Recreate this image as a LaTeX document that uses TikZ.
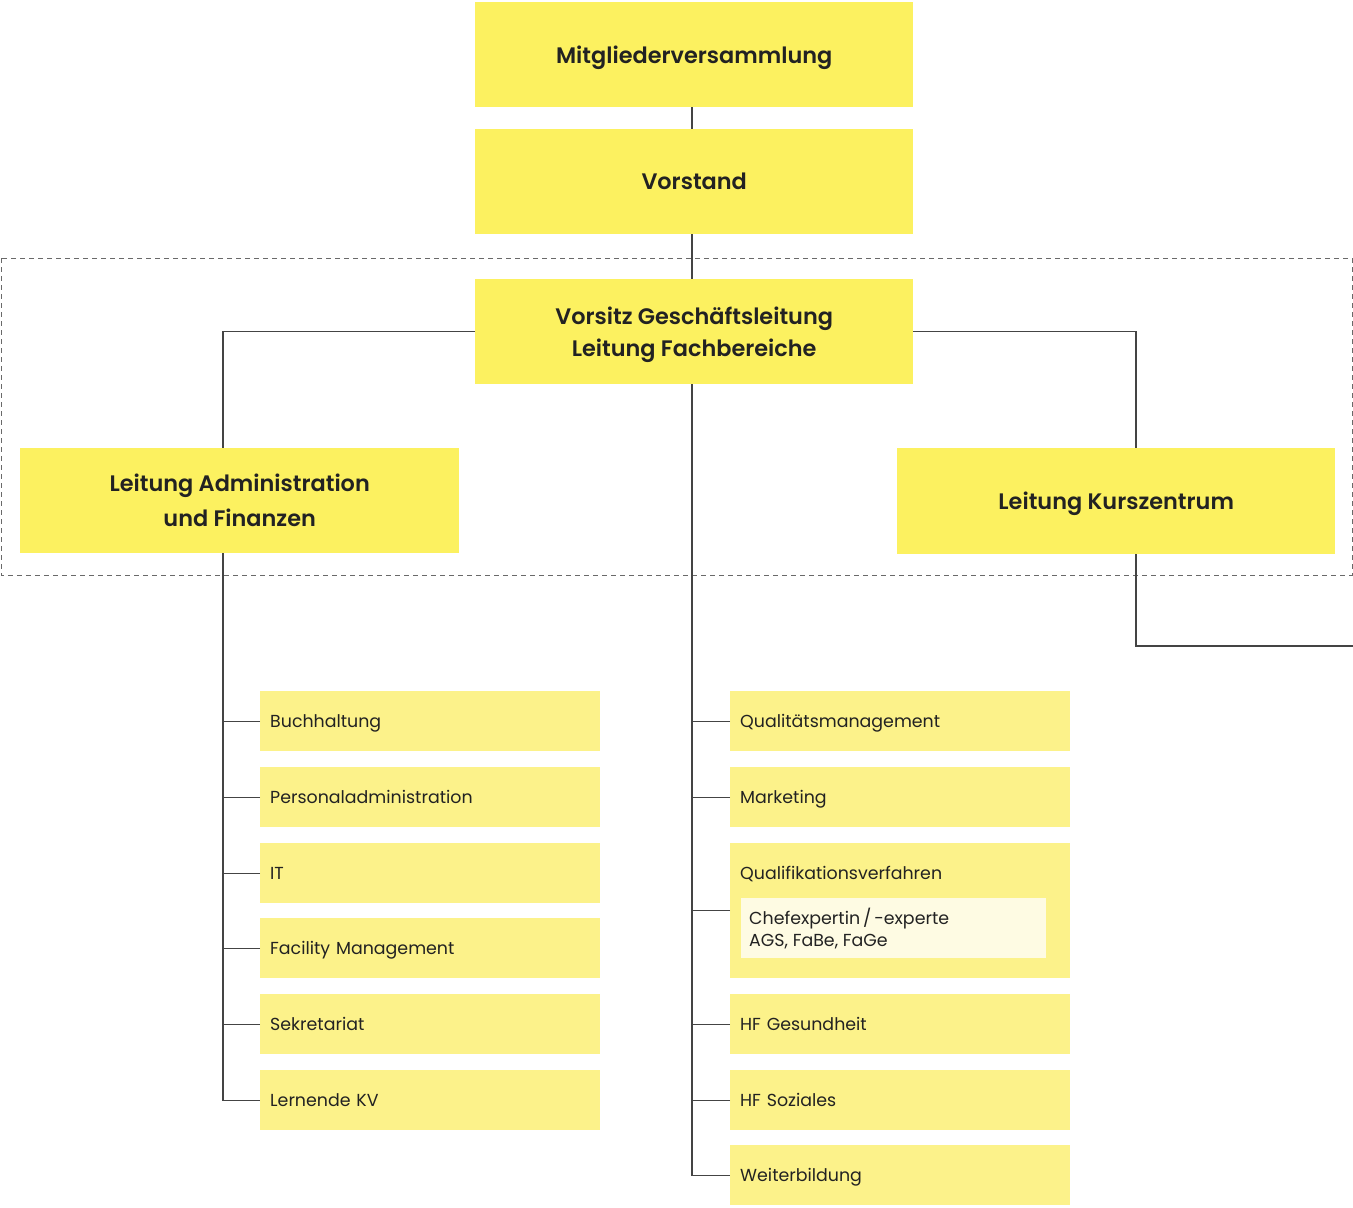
\documentclass[tikz,border=0pt]{standalone}
\usepackage{fontspec}
\setmainfont{Poppins}[BoldFont={Poppins SemiBold}]
\definecolor{yel}{HTML}{FCF160}
\definecolor{yelb}{HTML}{FCF28A}
\definecolor{yelc}{HTML}{FEFBE3}
\definecolor{txt}{HTML}{222222}
\definecolor{ln}{HTML}{444444}
\tikzset{
  bigbox/.style={fill=yel, minimum width=438pt, minimum height=105pt, inner sep=0pt, text depth=0pt, anchor=north west, align=center, text=txt, font=\bfseries\fontsize{22.4}{32}\selectfont},
  subbox/.style={fill=yelb, text width=320pt, inner xsep=10pt, inner ysep=0pt, text depth=0pt, minimum height=60pt, anchor=north west, align=left, text=txt, font=\fontsize{17.4}{22}\selectfont},
  conn/.style={draw=ln, line width=1.2pt},
  frame/.style={draw=ln!80, dash pattern=on 5pt off 4pt, line width=1pt}
}
\begin{document}
\begin{tikzpicture}[x=1pt,y=-1pt]
\useasboundingbox (0,0) rectangle (1353,1208);
\draw[frame] (1,258) rectangle (1352,575);
% top boxes
\node[bigbox] (mv) at (475,2) {Mitgliederversammlung};
\node[bigbox] (vs) at (475,129) {Vorstand};
\node[bigbox] (vg) at (475,279) {Vorsitz Geschäftsleitung\\Leitung Fachbereiche};
\node[bigbox, font=\bfseries\fontsize{22.4}{35}\selectfont, minimum width=439pt] (la) at (20,448) {Leitung Administration\\und Finanzen};
\node[bigbox, minimum height=106pt] (lk) at (897,448) {Leitung Kurszentrum};
% coordinates for line positions
\coordinate (lx) at (223,0);
\coordinate (cx) at (692,0);
\coordinate (kx) at (1136,0);
\coordinate (kend) at (1353,646);
% left sub boxes
\node[subbox] (s1) at (260,691) {Buchhaltung};
\node[subbox] (s2) at (260,767) {Personaladministration};
\node[subbox] (s3) at (260,843) {IT};
\node[subbox] (s4) at (260,918) {Facility Management};
\node[subbox] (s5) at (260,994) {Sekretariat};
\node[subbox] (s6) at (260,1070) {Lernende KV};
% right sub boxes
\node[subbox] (r1) at (730,691) {Qualitätsmanagement};
\node[subbox] (r2) at (730,767) {Marketing};
\node[subbox, minimum height=135pt] (r3) at (730,843) {};
\node[anchor=west, inner sep=0pt, text=txt, font=\fontsize{17.4}{22}\selectfont] (r3t) at (740,874) {Qualifikationsverfahren};
\node[fill=yelc, minimum width=305pt, minimum height=60pt, inner sep=0pt, anchor=north west] (r3i) at (741,898) {};
\node[anchor=north west, inner sep=0pt, text=txt, align=left, font=\fontsize{17.4}{22}\selectfont] (r3it) at (749,908) {Chefexpertin\,/\,-experte\\AGS, FaBe, FaGe};
\node[subbox] (r4) at (730,994) {HF Gesundheit};
\node[subbox] (r5) at (730,1070) {HF Soziales};
\node[subbox] (r6) at (730,1145) {Weiterbildung};
% connectors
\draw[conn] (mv.south -| cx) -- (vs.north -| cx);
\draw[conn] (vs.south -| cx) -- (vg.north -| cx);
\draw[conn] (vg.west) -| (la.north -| lx);
\draw[conn] (vg.east) -| (lk.north -| kx);
\draw[conn] (lk.south -| kx) |- (kend);
\draw[conn] (la.south -| lx) |- (s6.west);
\foreach \n in {s1,s2,s3,s4,s5} \draw[conn] (\n.west) -- (\n.west -| lx);
\draw[conn] (vg.south -| cx) |- (r6.west);
\foreach \n in {r1,r2,r3,r4,r5} \draw[conn] (\n.west) -- (\n.west -| cx);
\end{tikzpicture}
\end{document}
